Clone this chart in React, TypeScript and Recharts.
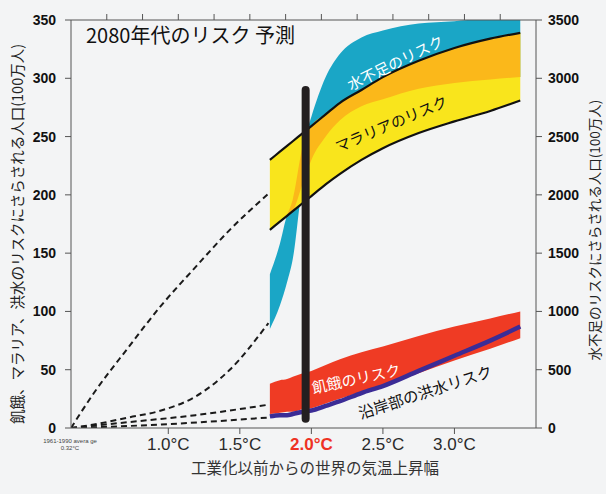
import React from 'react';
import { ComposedChart, Area, Line, XAxis, YAxis, ReferenceLine } from 'recharts';

// temperature samples (°C above pre-industrial) where the risk bands are drawn
const temps = [1.71, 1.78, 1.83, 1.87, 1.94, 2.0, 2.1, 2.2, 2.35, 2.5, 2.75, 3.0, 3.25, 3.46];

// left axis (100万人)
const malariaLow = [170, 177, 182, 186, 193, 199, 209, 218, 230, 240, 253, 263, 272, 281];
const malariaHigh = [230, 237, 242, 246, 253, 259, 269, 279, 290, 301, 315, 326, 334, 339];
const hungerLow = [12, 13, 14, 14, 16, 17, 21, 25, 31, 36, 47, 58, 68, 77];
const hungerHigh = [38, 41, 42, 44, 47, 49, 54, 59, 65, 70, 79, 87, 94, 100];
const flood = [10, 11, 11, 12, 14, 15, 19, 23, 30, 36, 49, 62, 75, 87];

// right axis (100万人)
const waterLow = [850, 1050, 1250, 1450, 2100, 2300, 2500, 2640, 2760, 2820, 2910, 2960, 2990, 3010];
const waterHigh = [1320, 1580, 1830, 1960, 2420, 2670, 3010, 3210, 3350, 3410, 3470, 3490, 3520, 3550];

// dashed lead-in curves from the 1961-1990 baseline [°C, value]
const dashMalaria = [[0.32, 0], [0.48, 30], [0.72, 69], [0.95, 105], [1.19, 138], [1.43, 170], [1.7, 201]];
const dashWater = [[0.32, 0], [0.48, 3], [0.72, 9], [0.95, 15], [1.19, 27], [1.43, 50], [1.7, 90]];
const dashHunger = [[0.32, 0], [0.72, 5], [1.19, 11], [1.7, 20]];
const dashFlood = [[0.32, 0], [0.95, 3], [1.7, 9]];

const leftTicks = [0, 50, 100, 150, 200, 250, 300, 350];
const rightTicks = [0, 500, 1000, 1500, 2000, 2500, 3000, 3500];
const tempTicks = [1.0, 1.5, 2.0, 2.5, 3.0];
const topTicks = [0.57, 0.82, 1.07, 1.32, 1.57, 1.82, 2.07, 2.32, 2.57, 2.82, 3.07, 3.32];
const markerTemp = 1.96;
const markerRange = [8, 290];

const rows = temps.map((t, i) => {
  const lo = Math.max(waterLow[i] / 10, malariaLow[i]);
  const hi = Math.min(waterHigh[i] / 10, malariaHigh[i]);
  return {
    t,
    water: [waterLow[i], waterHigh[i]],
    malaria: [malariaLow[i], malariaHigh[i]],
    malariaLow: malariaLow[i],
    malariaHigh: malariaHigh[i],
    overlap: lo < hi ? [lo, hi] : null,
    hunger: [hungerLow[i], hungerHigh[i]],
    flood: flood[i],
  };
});

const toPts = (arr: number[][]) => arr.map(([t, v]) => ({ t, v }));

const NUM = '"Liberation Sans", Arial, sans-serif';
const JP = '"Noto Sans CJK JP", sans-serif';

const TempTick = (props: any) => {
  const { x, y, payload } = props;
  const hot = payload.value === 2;
  return (
    <text x={x} y={y} dy="0.71em" textAnchor="middle" fontSize={17} fontFamily={NUM}
      fill={hot ? '#ee3224' : '#2a2a2a'} fontWeight={hot ? 700 : 400}>
      {payload.value.toFixed(1)}°C
    </text>
  );
};

const dashProps = {
  yAxisId: 'left',
  dataKey: 'v',
  type: 'monotone' as const,
  stroke: '#1a1a1a',
  strokeWidth: 2,
  strokeDasharray: '6 4',
  dot: false,
  isAnimationActive: false,
};

export default function App() {
  return (
    <div style={{ position: 'relative', width: 606, height: 494, background: '#f3f4f5' }}>
      <style>{'body{margin:0}'}</style>
      <ComposedChart width={606} height={494} data={rows} margin={{ top: 0, right: 0, bottom: 0, left: 0 }}>
        <XAxis dataKey="t" type="number" domain={[0.32, 3.57]} ticks={tempTicks} height={66}
          allowDataOverflow tick={<TempTick />} tickSize={6} tickMargin={4}
          stroke="#555" />
        <XAxis xAxisId="top" orientation="top" dataKey="t" type="number" domain={[0.32, 3.57]} ticks={topTicks}
          height={20} tickFormatter={() => ''} tickSize={6} stroke="#555" allowDataOverflow />
        <YAxis yAxisId="left" domain={[0, 350]} ticks={leftTicks} width={71} tickSize={6} tickMargin={9}
          stroke="#555" tick={{ fill: '#111', fontSize: 14, fontWeight: 700, fontFamily: NUM }} allowDataOverflow />
        <YAxis yAxisId="right" orientation="right" domain={[0, 3500]} ticks={rightTicks} width={70}
          tickSize={6} tickMargin={6} stroke="#555"
          tick={{ fill: '#111', fontSize: 14, fontWeight: 700, fontFamily: NUM }} allowDataOverflow />

        <Area yAxisId="right" dataKey="water" type="monotone" fill="#1aa6c6" fillOpacity={1} stroke="none" isAnimationActive={false} />
        <Area yAxisId="left" dataKey="malaria" type="monotone" fill="#f9e51c" fillOpacity={1} stroke="none" isAnimationActive={false} />
        <Area yAxisId="left" dataKey="overlap" type="monotone" fill="#fbb81a" fillOpacity={1} stroke="none" isAnimationActive={false} />
        <Line yAxisId="left" dataKey="malariaHigh" type="monotone" stroke="#111" strokeWidth={2.2} dot={false} isAnimationActive={false} />
        <Line yAxisId="left" dataKey="malariaLow" type="monotone" stroke="#111" strokeWidth={2.2} dot={false} isAnimationActive={false} />
        <Area yAxisId="left" dataKey="hunger" type="monotone" fill="#ef3b24" fillOpacity={1} stroke="none" isAnimationActive={false} />
        <Line yAxisId="left" dataKey="flood" type="monotone" stroke="#3b2c96" strokeWidth={4.5} dot={false} isAnimationActive={false} />

        <Line {...dashProps} data={toPts(dashMalaria)} />
        <Line {...dashProps} data={toPts(dashWater)} />
        <Line {...dashProps} data={toPts(dashHunger)} />
        <Line {...dashProps} data={toPts(dashFlood)} />

        <ReferenceLine yAxisId="left"
          segment={[{ x: markerTemp, y: markerRange[0] }, { x: markerTemp, y: markerRange[1] }]}
          stroke="#231f20" strokeWidth={8} strokeLinecap="round" />
      </ComposedChart>

      <svg width={606} height={494} style={{ position: 'absolute', left: 0, top: 0, pointerEvents: 'none' }}>
        <text x={86} y={43} fontSize={20} fontFamily={JP} fill="#111">2080年代のリスク 予測</text>
        <text transform="translate(395,62) rotate(-26)" textAnchor="middle" dominantBaseline="central"
          fontSize={15} fontFamily={JP} fill="#fff">水不足のリスク</text>
        <text transform="translate(391,123) rotate(-23)" textAnchor="middle" dominantBaseline="central"
          fontSize={15} fontFamily={JP} fill="#111">マラリアのリスク</text>
        <text transform="translate(356,378) rotate(-12)" textAnchor="middle" dominantBaseline="central"
          fontSize={15} fontFamily={JP} fill="#fff">飢餓のリスク</text>
        <text transform="translate(425,391) rotate(-18)" textAnchor="middle" dominantBaseline="central"
          fontSize={15.5} fontFamily={JP} fill="#111">沿岸部の洪水リスク</text>

        <text transform="translate(16,234) rotate(-90)" textAnchor="middle" dominantBaseline="central"
          fontSize={14.5} fontFamily={JP} fill="#222">飢餓、マラリア、洪水のリスクにさらされる人口(100万人)</text>
        <text transform="translate(594,230) rotate(-90)" textAnchor="middle" dominantBaseline="central"
          fontSize={13.5} fontFamily={JP} fill="#222">水不足のリスクにさらされる人口(100万人)</text>
        <text x={315} y={474} textAnchor="middle" fontSize={15.5} fontFamily={JP} fill="#333">工業化以前からの世界の気温上昇幅</text>

        <text x={70} y={443} textAnchor="middle" fontSize={6} fontFamily={NUM} fill="#444">1961-1990 avera ge</text>
        <text x={70} y={450} textAnchor="middle" fontSize={6} fontFamily={NUM} fill="#444">0.32°C</text>
      </svg>
    </div>
  );
}
